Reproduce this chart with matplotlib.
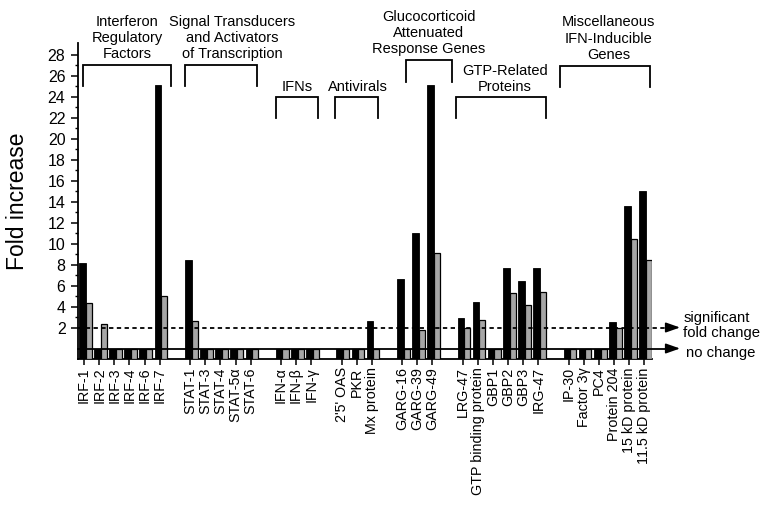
import matplotlib
matplotlib.use("Agg")
import matplotlib.pyplot as plt
from matplotlib.ticker import FixedLocator

plt.rcParams['font.family'] = ['Liberation Sans', 'DejaVu Sans']

# ---------------- data ----------------
groups = [
    "Interferon\nRegulatory\nFactors",
    "Signal Transducers\nand Activators\nof Transcription",
    "IFNs",
    "Antivirals",
    "Glucocorticoid\nAttenuated\nResponse Genes",
    "GTP-Related\nProteins",
    "Miscellaneous\nIFN-Inducible\nGenes",
]
genes = [
    ["IRF-1", "IRF-2", "IRF-3", "IRF-4", "IRF-6", "IRF-7"],
    ["STAT-1", "STAT-3", "STAT-4", "STAT-5α", "STAT-6"],
    ["IFN-α", "IFN-β", "IFN-γ"],
    ["2'5' OAS", "PKR", "Mx protein"],
    ["GARG-16", "GARG-39", "GARG-49"],
    ["LRG-47", "GTP binding protein", "GBP1", "GBP2", "GBP3", "IRG-47"],
    ["IP-30", "Factor 3γ", "PC4", "Protein 204", "15 kD protein", "11.5 kD protein"],
]
black_vals = [
    [8.1, 0, 0, 0, 0, 25.1],
    [8.4, 0, 0, 0, 0],
    [0, 0, 0],
    [0, 0, 2.6],
    [6.6, 11.0, 25.1],
    [2.9, 4.45, 0, 7.7, 6.4, 7.7],
    [0, 0, 0, 2.5, 13.55, 15.0],
]
gray_vals = [
    [4.35, 2.35, 0, 0, 0, 5.0],
    [2.6, 0, 0, 0, 0],
    [0, 0, 0],
    [0, 0, 0],
    [0, 1.75, 9.05],
    [1.95, 2.75, 0, 5.25, 4.15, 5.35],
    [0, 0, 0, 1.95, 10.4, 8.4],
]
yticks = list(range(2, 29, 2))

# ---------------- layout ----------------
BASE = -1.0
xpos = []
labels = []
blacks = []
grays = []
group_slots = []
s = 0
for gi, g in enumerate(genes):
    first = s
    for j, name in enumerate(g):
        xpos.append(s)
        labels.append(name)
        blacks.append(black_vals[gi][j])
        grays.append(gray_vals[gi][j])
        s += 1
    group_slots.append((first, s - 1))
    s += 1

# bracket layout: (left offset, right offset, top, leg bottom, text x, text bottom)
bracket_layout = [
    (-0.07, 0.74, 27.0, 25.0, 2.84, 27.35),
    (-0.33, 0.42, 27.0, 25.0, 9.77, 27.35),
    (-0.33, 0.45, 24.0, 22.0, 14.06, 24.25),
    (-0.43, 0.40, 24.0, 22.0, 18.09, 24.25),
    (0.25, 1.30, 27.5, 25.4, 22.75, 27.85),
    (-0.45, 0.50, 24.0, 22.0, 27.8, 24.25),
    (-0.60, 0.40, 26.9, 24.9, 34.64, 27.3),
]

fig = plt.figure(figsize=(7.6, 5.09), dpi=100)
ax = fig.add_axes([78 / 760, 150 / 509, 574 / 760, 316 / 509])

bx = [x - 0.12 for x in xpos]
gx = [x + 0.30 for x in xpos]
ax.bar(bx, [v - BASE for v in blacks], bottom=BASE, width=0.44,
       color='black', edgecolor='black', linewidth=0.6, zorder=2)
ax.bar(gx, [v - BASE for v in grays], bottom=BASE, width=0.40,
       color='#a6a6a6', edgecolor='black', linewidth=0.9, zorder=3)

ax.set_xlim(-0.4, 37.5)
ax.set_ylim(BASE, 29.1)

for side in ('top', 'right'):
    ax.spines[side].set_visible(False)
ax.spines['left'].set_linewidth(1.3)
ax.spines['bottom'].set_linewidth(1.3)

ax.yaxis.set_major_locator(FixedLocator(yticks))
ax.yaxis.set_minor_locator(FixedLocator([v + 1 for v in yticks[:-1]]))
ax.set_yticklabels([str(v) for v in yticks], fontsize=11.5)
ax.tick_params(axis='y', which='major', length=5, width=1.1, direction='out', pad=4)
ax.tick_params(axis='y', which='minor', length=2.5, width=1, direction='out')

ax.set_xticks(xpos)
ax.set_xticklabels(labels, rotation=90, fontsize=10.3, va='top', ha='center')
ax.tick_params(axis='x', length=4, width=1.1, direction='out', pad=2)

ax.set_ylabel("Fold increase", fontsize=16.5)
ax.yaxis.set_label_coords(-0.085, 0.5)

# reference lines
ax.plot([-0.4, 38.8], [0, 0], color='black', lw=1.3, clip_on=False, zorder=4)
ax.plot([-0.4, 38.8], [2, 2], color='black', lw=1.3, dashes=(2.4, 1.9),
        clip_on=False, zorder=4)
for yv in (0, 2):
    ax.annotate('', xy=(39.35, yv), xytext=(38.4, yv),
                arrowprops=dict(arrowstyle='-|>,head_length=0.85,head_width=0.3',
                                mutation_scale=10, color='black', lw=1.2,
                                shrinkA=0, shrinkB=0),
                annotation_clip=False)
ax.text(39.56, 2.2, "significant\nfold change", fontsize=10.7, ha='left',
        va='center', linespacing=1.15, clip_on=False)
ax.text(39.76, -0.43, "no change", fontsize=10.7, ha='left', va='center',
        clip_on=False)

# group brackets and headers
for (first, last), name, (lo, ro, top, bot, tx, ty) in zip(group_slots, groups, bracket_layout):
    xl, xr = first + lo, last + ro
    ax.plot([xl, xl, xr, xr], [bot, top, top, bot], color='black', lw=1.3,
            clip_on=False, solid_joinstyle='miter')
    ax.text(tx, ty, name, fontsize=10.5, ha='center', va='bottom',
            linespacing=1.2, clip_on=False)

fig.savefig("out.png", dpi=100)
